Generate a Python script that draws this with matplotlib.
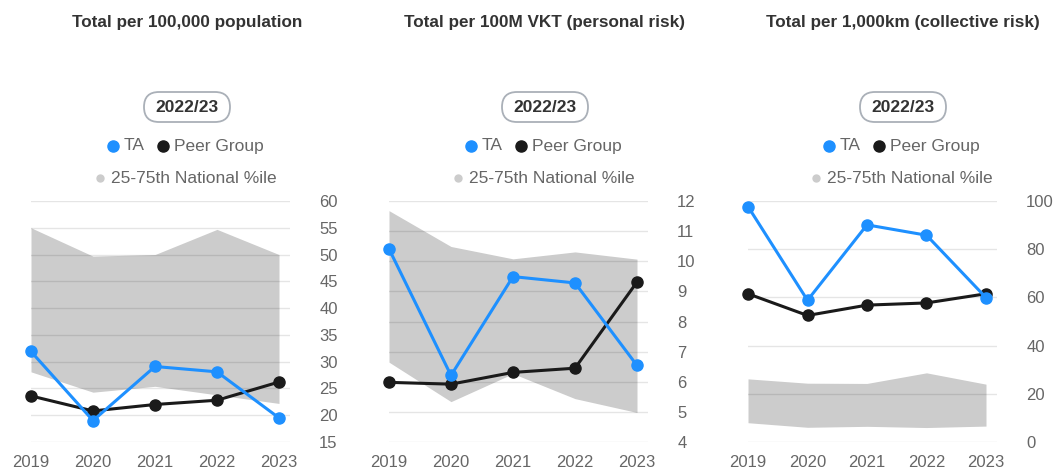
import matplotlib
matplotlib.use("Agg")
import matplotlib.pyplot as plt
from matplotlib.lines import Line2D
from matplotlib.patches import FancyBboxPatch

plt.rcParams['font.family'] = ['Liberation Sans', 'DejaVu Sans']

years = [2019, 2020, 2021, 2022, 2023]

titles = ["Total per 100,000 population",
          "Total per 100M VKT (personal risk)",
          "Total per 1,000km (collective risk)"]
period = "2022/23"

# Panel 1: per 100,000 population
pop_ta = [31.9, 19.0, 29.1, 28.1, 19.5]
pop_peer = [23.6, 20.8, 22.0, 22.8, 26.2]
pop_p25 = [28.1, 24.3, 25.4, 23.8, 22.2]
pop_p75 = [55.0, 49.7, 50.0, 54.7, 50.0]
pop_ticks = [15, 20, 25, 30, 35, 40, 45, 50, 55, 60]

# Panel 2: per 100M VKT
vkt_ta = [10.41, 6.21, 9.49, 9.28, 6.54]
vkt_peer = [5.98, 5.92, 6.31, 6.45, 9.31]
vkt_p25 = [6.65, 5.34, 6.27, 5.44, 4.98]
vkt_p75 = [11.68, 10.49, 10.08, 10.31, 10.07]
vkt_ticks = [4, 5, 6, 7, 8, 9, 10, 11, 12]

# Panel 3: per 1,000km
km_ta = [97.7, 58.8, 90.1, 85.8, 59.9]
km_peer = [61.5, 52.5, 56.8, 57.7, 61.5]
km_p25 = [8.0, 6.1, 6.5, 6.0, 6.6]
km_p75 = [26.2, 24.4, 24.3, 28.7, 24.0]
km_ticks = [0, 20, 40, 60, 80, 100]

W, H = 1055, 473
fig = plt.figure(figsize=(W / 100, H / 100), dpi=100)

BLUE = '#1e90ff'
BLACK = '#1a1a1a'
BAND = '#cccccc'
TXT = '#333333'
TICK = '#666666'

panels = [
    (pop_ta, pop_peer, pop_p25, pop_p75, pop_ticks, 31, 279, 187),
    (vkt_ta, vkt_peer, vkt_p25, vkt_p75, vkt_ticks, 389, 637, 545),
    (km_ta, km_peer, km_p25, km_p75, km_ticks, 748, 986, 903),
]

top_px, bot_px = 201, 442


def fx(px):
    return px / W


def fy(py):
    return 1 - py / H


for i, (ta, peer, lo, hi, ticks, x19, x23, cx) in enumerate(panels):
    per_year = (x23 - x19) / 4.0
    right_px = x23 + 11
    ax = fig.add_axes([fx(x19), fy(bot_px), fx(right_px - x19), (bot_px - top_px) / H])
    ax.set_xlim(2019, 2023 + 11 / per_year)
    ax.set_ylim(ticks[0], ticks[-1])
    ax.fill_between(years, lo, hi, color=BAND, lw=0, zorder=1)
    for t in ticks:
        ax.axhline(t, color=(0, 0, 0, 0.1), lw=1, zorder=2)
    ax.plot(years, peer, color=BLACK, lw=2.2, marker='o', ms=8, zorder=3, clip_on=False)
    ax.plot(years, ta, color=BLUE, lw=2.2, marker='o', ms=8, zorder=4, clip_on=False)
    for s in ax.spines.values():
        s.set_visible(False)
    ax.yaxis.tick_right()
    ax.set_yticks(ticks)
    ax.set_yticklabels([str(t) for t in ticks])
    ax.set_xticks(years)
    ax.set_xticklabels([str(y) for y in years])
    ax.tick_params(axis='y', length=0, pad=21, labelsize=12, labelcolor=TICK)
    ax.tick_params(axis='x', length=0, pad=9, labelsize=12, labelcolor=TICK)
    for lab in ax.get_yticklabels():
        lab.set_horizontalalignment('left')
    ax.patch.set_visible(False)

    # title
    fig.text(fx(cx), fy(22), titles[i], ha='center', va='center',
             fontsize=12.3, fontweight='bold', color=TXT)
    # badge (pixel coordinates)
    bw, bh = 86, 30
    badge = FancyBboxPatch((cx - bw / 2, H - 107 - bh / 2), bw, bh,
                           boxstyle="round,pad=0,rounding_size=15",
                           transform=None, fc='white', ec='#aab0b8', lw=1.3)
    fig.add_artist(badge)
    fig.text(fx(cx), fy(107), period, ha='center', va='center',
             fontsize=12.5, fontweight='bold', color=TXT)
    # legend row 1
    fig.add_artist(Line2D([fx(cx - 74)], [fy(146)], marker='o', ms=8, color=BLUE,
                          transform=fig.transFigure, ls='none'))
    fig.text(fx(cx - 63), fy(146), "TA", ha='left', va='center', fontsize=12.5, color=TICK)
    fig.add_artist(Line2D([fx(cx - 24)], [fy(146)], marker='o', ms=8, color=BLACK,
                          transform=fig.transFigure, ls='none'))
    fig.text(fx(cx - 13), fy(146), "Peer Group", ha='left', va='center', fontsize=12.5, color=TICK)
    # legend row 2
    fig.add_artist(Line2D([fx(cx - 87)], [fy(178)], marker='o', ms=5, color=BAND,
                          transform=fig.transFigure, ls='none'))
    fig.text(fx(cx - 76), fy(178), "25-75th National %ile", ha='left', va='center',
             fontsize=12.5, color=TICK)

fig.savefig("out.png", dpi=100)
